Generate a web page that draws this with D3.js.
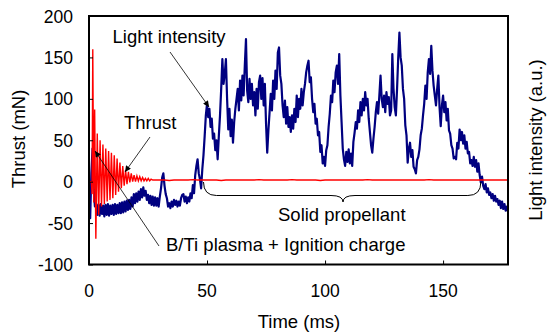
<!DOCTYPE html>
<html>
<head>
<meta charset="utf-8">
<script src="https://cdn.jsdelivr.net/npm/d3@7"></script>
<style>
body { margin: 0; background: #fff; }
text { font-family: "Liberation Sans", Arial, sans-serif; fill: #000; }
</style>
</head>
<body>
<div id="chart"></div>
<script>
// light intensity trace, one value every 0.5 ms starting at 0 ms
var lightStep = 0.5;
var lightIntensity = [
  -30, -44, 10, 40, -10, -30, -26, -40, -28, -41, -27, -39, -29, -42, -28, -40, -27, -41, -29, -39,
  -28, -40, -27, -39, -28, -38, -26, -38, -25, -37, -24, -36, -23, -34, -22, -33, -19, -30, -15, -26,
  -14, -24, -12, -22, -9, -19, -7, -17, -11, -22, -16, -26, -17, -28, -18, -29, -19, -29, -20, -30,
  -18, -8, 5, 10, -5, -15, -20, -30, -26, -32, -24, -30, -22, -28, -23, -30, -24, -29, -20, -16,
  -15, -24, -18, -26, -19, -24, -14, -20, -4, -14, 8, 19, 27, 10, 3, -8, 15, 32, 55, 80,
  94, 78, 88, 66, 76, 52, 58, 38, 50, 27, 55, 80, 112, 148, 118, 130, 148, 100, 63, 88,
  55, 75, 47, 72, 88, 100, 112, 86, 122, 98, 128, 104, 140, 172, 110, 96, 124, 100, 118, 92,
  108, 80, 112, 88, 120, 128, 100, 125, 92, 118, 70, 35, 62, 84, 106, 86, 122, 100, 134, 112,
  156, 162, 128, 118, 92, 78, 98, 70, 90, 66, 78, 60, 80, 64, 88, 72, 104, 78, 100, 88,
  112, 92, 108, 118, 132, 140, 146, 120, 126, 100, 84, 94, 70, 76, 56, 60, 36, 44, 22, 30,
  19, 38, 44, 66, 82, 104, 96, 122, 108, 132, 140, 118, 154, 104, 72, 40, 27, 19, 36, 24,
  39, 22, 34, 19, 48, 59, 72, 64, 86, 72, 96, 80, 100, 86, 108, 92, 100, 76, 60, 44,
  35, 52, 66, 84, 96, 82, 104, 128, 100, 90, 104, 84, 108, 94, 102, 80, 86, 154, 112, 90,
  80, 112, 150, 180, 150, 140, 112, 100, 68, 56, 23, 40, 47, 30, 38, 18, 15, 10, 26, 30,
  39, 56, 64, 80, 94, 116, 100, 132, 148, 130, 164, 134, 116, 104, 92, 112, 128, 90, 67, 92,
  104, 84, 96, 74, 88, 62, 58, 44, 40, 28, 30, 27, 47, 40, 63, 50, 60, 46, 56, 40,
  48, 34, 36, 22, 26, 19, 30, 18, 26, 12, 22, 8, -1, 6, -5, -9, -3, -13, -8, -16,
  -13, -20, -15, -23, -17, -24, -21, -28, -23, -32, -24, -33, -27, -35, -30, -36
];

// thrust: ringing after ignition (peaks and troughs), then a flat tail every 2 ms
var thrustTime = [0, 1.0, 1.3, 1.6, 2.0, 2.4, 2.9,
  3.5, 4.1, 4.7, 5.3, 5.9, 6.5, 7.1, 7.7, 8.3, 8.9,
  9.5, 10.1, 10.7, 11.3, 11.9, 12.5, 13.1, 13.7, 14.3, 14.9,
  15.5, 16.1, 16.7, 17.3, 17.9, 18.5, 19.1, 19.7, 20.3, 20.9,
  21.5, 22.1, 22.7, 23.3, 23.9, 24.5, 25.1, 25.7, 26.3, 27.0];
var thrustValue = [0, 0, -15, 160, -25, 87, -69,
  58, -40, 50, -30, 45, -27, 40, -24, 37, -22,
  35, -20, 32, -16, 28, -12, 23, -8, 19, -5,
  14, -3, 12, -1, 10, 0, 8, 0, 7, 1,
  6, 1, 5, 1, 4, 1, 4, 1, 3, 2];
var thrustTailStart = 28;
var thrustTailStep = 2;
var thrustTail = [
  2, 2, 2, 1.5, 2, 2, 2, 2, 2.5, 2, 2, 2, 2, 2, 1.5, 2, 2, 2, 2, 2,
  2, 2, 2.5, 2, 2, 2, 2, 2, 2, 2.5, 2, 2, 2, 2, 2, 1.5, 2, 2, 2, 2,
  2, 2, 2, 2, 2, 2.5, 2, 2, 2, 2, 2, 2, 2, 2, 2, 2, 2, 2, 2.5, 2,
  2, 2, 2, 2, 2, 2, 2, 2, 2, 2, 2, 2, 2, 2, 2, 2
];

var xTicks = [0, 50, 100, 150];
var yTicks = [-100, -50, 0, 50, 100, 150, 200];

var W = 549, H = 335;
var pLeft = 89, pRight = 508, pTop = 16, pBottom = 264.5;

var svg = d3.select("#chart").append("svg")
  .attr("width", W)
  .attr("height", H);

var x = d3.scaleLinear().domain([0, 177.5]).range([pLeft, pRight]);
var y = d3.scaleLinear().domain([-100, 200]).range([pBottom, pTop]);

var defs = svg.append("defs");
defs.append("clipPath").attr("id", "plot")
  .append("rect")
  .attr("x", pLeft).attr("y", pTop)
  .attr("width", pRight - pLeft).attr("height", pBottom - pTop);

var marker = defs.append("marker")
  .attr("id", "arrow")
  .attr("viewBox", "0 0 10 10")
  .attr("refX", 10).attr("refY", 5)
  .attr("markerUnits", "userSpaceOnUse")
  .attr("markerWidth", 8).attr("markerHeight", 6)
  .attr("orient", "auto");
marker.append("path").attr("d", "M0,0 L10,5 L0,10 Z").attr("fill", "#000");

// data lines
var lightPts = lightIntensity.map(function(v, i) { return [i * lightStep, v]; });
var thrustPts = thrustTime.map(function(t, i) { return [t, thrustValue[i]]; });
thrustTail.forEach(function(v, i) { thrustPts.push([thrustTailStart + i * thrustTailStep, v]); });

var line = d3.line()
  .x(function(d) { return x(d[0]); })
  .y(function(d) { return y(d[1]); });

var plot = svg.append("g").attr("clip-path", "url(#plot)");

plot.append("path")
  .datum(lightPts)
  .attr("d", line)
  .attr("fill", "none")
  .attr("stroke", "#000080")
  .attr("stroke-width", 2.2)
  .attr("stroke-linejoin", "round");

plot.append("path")
  .datum(thrustPts)
  .attr("d", line)
  .attr("fill", "none")
  .attr("stroke", "#ff0000")
  .attr("stroke-width", 1.4);

// axes: inward ticks, labels drawn separately
var xAxis = svg.append("g")
  .attr("transform", "translate(0," + pBottom + ")")
  .call(d3.axisBottom(x).tickValues(xTicks).tickSizeInner(-4).tickSizeOuter(0).tickFormat(""));
var yAxis = svg.append("g")
  .attr("transform", "translate(" + pLeft + ",0)")
  .call(d3.axisLeft(y).tickValues(yTicks).tickSizeInner(-4).tickSizeOuter(0).tickFormat(""));
[xAxis, yAxis].forEach(function(a) {
  a.select(".domain").remove();
  a.selectAll("line").attr("stroke", "#000").attr("stroke-width", 1);
});

svg.append("rect")
  .attr("x", pLeft).attr("y", pTop)
  .attr("width", pRight - pLeft).attr("height", pBottom - pTop)
  .attr("fill", "none")
  .attr("stroke", "#000")
  .attr("stroke-width", 2);

svg.selectAll(".xl").data(xTicks).enter().append("text")
  .attr("class", "xl")
  .attr("x", function(d) { return x(d); })
  .attr("y", 297)
  .attr("text-anchor", "middle")
  .style("font-size", "17.5px")
  .text(function(d) { return d; });

svg.selectAll(".yl").data(yTicks).enter().append("text")
  .attr("class", "yl")
  .attr("x", 73)
  .attr("y", function(d) { return y(d) + 6.5; })
  .attr("text-anchor", "end")
  .style("font-size", "17.5px")
  .text(function(d) { return d; });

// titles
svg.append("text")
  .attr("x", 299).attr("y", 328)
  .attr("text-anchor", "middle")
  .style("font-size", "18.5px")
  .text("Time (ms)");
svg.append("text")
  .attr("transform", "translate(25,139) rotate(-90)")
  .attr("text-anchor", "middle")
  .style("font-size", "18.5px")
  .text("Thrust (mN)");
svg.append("text")
  .attr("transform", "translate(542,140) rotate(-90)")
  .attr("text-anchor", "middle")
  .style("font-size", "18.5px")
  .text("Light intensity (a.u.)");

// annotations
function note(tx, ty, str) {
  svg.append("text").attr("x", tx).attr("y", ty)
    .style("font-size", "18.5px").text(str);
}
function arrow(x1, y1, x2, y2) {
  svg.append("line")
    .attr("x1", x1).attr("y1", y1).attr("x2", x2).attr("y2", y2)
    .attr("stroke", "#000").attr("stroke-width", 0.8)
    .attr("marker-end", "url(#arrow)");
}
note(112.5, 43, "Light intensity");
arrow(170, 52, 209, 107);
note(124, 129, "Thrust");
arrow(150, 137, 125, 172);
note(166, 251, "B/Ti plasma + Ignition charge");
arrow(159, 246, 95, 151);
note(278, 221, "Solid propellant");

// brace under the solid propellant phase
var bx0 = x(48.5), bx1 = x(166), bmid = 343, by = 195.5;
svg.append("path")
  .attr("d", "M" + bx0 + ",182 Q" + bx0 + "," + by + " " + (bx0 + 13) + "," + by +
    " L" + (bmid - 12) + "," + by + " Q" + bmid + "," + by + " " + bmid + ",202" +
    " Q" + bmid + "," + by + " " + (bmid + 12) + "," + by +
    " L" + (bx1 - 13) + "," + by + " Q" + bx1 + "," + by + " " + bx1 + ",182")
  .attr("fill", "none")
  .attr("stroke", "#000")
  .attr("stroke-width", 1);
</script>
</body>
</html>
